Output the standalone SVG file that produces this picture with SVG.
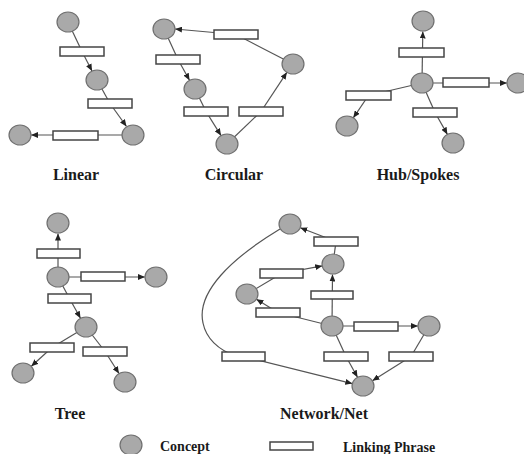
<svg xmlns="http://www.w3.org/2000/svg" width="524" height="454" viewBox="0 0 524 454">
<defs>
<marker id="arr" markerUnits="userSpaceOnUse" markerWidth="7" markerHeight="6" refX="7" refY="3" orient="auto">
<path d="M0,0 L7,3 L0,6 z" fill="#222"/>
</marker>
<style>
.c{fill:#a9a9a9;stroke:#707070;stroke-width:1.2}
.r{fill:#fff;stroke:#454545;stroke-width:1.5}
.l{fill:none;stroke:#555;stroke-width:1.2}
.a{fill:none;stroke:#555;stroke-width:1.2;marker-end:url(#arr)}
.t{font-family:"Liberation Serif","DejaVu Serif",serif;font-weight:bold;font-size:16px;fill:#1a1a1a;text-anchor:middle}
.lg{font-family:"Liberation Serif","DejaVu Serif",serif;font-weight:bold;font-size:14px;fill:#1a1a1a}
</style>
</defs>
<rect width="524" height="454" fill="#fff"/>

<g id="connectors">
<!-- Linear -->
<line class="l" x1="68" y1="22" x2="82" y2="51.5"/>
<line class="a" x1="82" y1="51.5" x2="92" y2="71"/>
<line class="l" x1="97" y1="80" x2="110" y2="103.5"/>
<line class="a" x1="110" y1="103.5" x2="126.5" y2="126.5"/>
<line class="a" x1="133" y1="135" x2="31" y2="135"/>
<!-- Circular -->
<line class="l" x1="293" y1="64" x2="236" y2="34.5"/>
<line class="a" x1="236" y1="34.5" x2="175" y2="29"/>
<line class="l" x1="164" y1="29" x2="178" y2="59.5"/>
<line class="a" x1="178" y1="59.5" x2="189.5" y2="80.3"/>
<line class="l" x1="195" y1="89" x2="206" y2="111.5"/>
<line class="a" x1="206" y1="111.5" x2="221" y2="135.6"/>
<line class="l" x1="227" y1="144" x2="261" y2="111.5"/>
<line class="a" x1="261" y1="111.5" x2="286.9" y2="72.3"/>
<!-- Hub/Spokes -->
<line class="a" x1="422" y1="83" x2="422.8" y2="31.5"/>
<line class="a" x1="422" y1="83" x2="507" y2="83"/>
<line class="l" x1="422" y1="83" x2="368.5" y2="95.5"/>
<line class="a" x1="368.5" y1="95.5" x2="353.3" y2="117.8"/>
<line class="l" x1="422" y1="83" x2="435" y2="112.5"/>
<line class="a" x1="435" y1="112.5" x2="447.4" y2="134.4"/>
<!-- Tree -->
<line class="a" x1="58" y1="277" x2="58" y2="233.5"/>
<line class="a" x1="58" y1="277" x2="145" y2="277"/>
<line class="l" x1="58" y1="277" x2="69.5" y2="298.5"/>
<line class="a" x1="69.5" y1="298.5" x2="80.5" y2="318.3"/>
<line class="l" x1="86" y1="327" x2="52" y2="347.5"/>
<line class="a" x1="52" y1="347.5" x2="31.3" y2="366.3"/>
<line class="l" x1="86" y1="327" x2="105" y2="351.5"/>
<line class="a" x1="105" y1="351.5" x2="119" y2="373.5"/>
<!-- Network/Net -->
<line class="l" x1="333" y1="264" x2="336" y2="241.5"/>
<line class="a" x1="336" y1="241.5" x2="300.3" y2="227.7"/>
<line class="l" x1="247" y1="294" x2="281.5" y2="273.5"/>
<line class="a" x1="281.5" y1="273.5" x2="322.2" y2="265.9"/>
<line class="a" x1="332" y1="326" x2="332.5" y2="274.5"/>
<line class="l" x1="332" y1="326" x2="278" y2="312.5"/>
<line class="a" x1="278" y1="312.5" x2="256.4" y2="299.2"/>
<line class="a" x1="332" y1="326" x2="418" y2="326"/>
<line class="l" x1="332" y1="326" x2="346" y2="356.5"/>
<line class="a" x1="346" y1="356.5" x2="357.5" y2="377.3"/>
<line class="l" x1="429" y1="326" x2="411" y2="356.5"/>
<line class="a" x1="411" y1="356.5" x2="372.4" y2="380.8"/>
<path class="l" d="M280,229 C232,258 196,292 203,323 C206,338 218,350 236,356"/>
<line class="a" x1="243.5" y1="356.5" x2="352.3" y2="383.6"/>
</g>

<!-- Linear nodes -->
<g id="lin-c1"><ellipse class="c" cx="68" cy="22" rx="11" ry="10"/></g>
<g id="lin-r1"><rect class="r" x="60" y="47" width="44" height="9"/></g>
<g id="lin-c2"><ellipse class="c" cx="97" cy="80" rx="11" ry="10"/></g>
<g id="lin-r2"><rect class="r" x="88" y="99" width="44" height="9"/></g>
<g id="lin-c3"><ellipse class="c" cx="133" cy="135" rx="11" ry="10"/></g>
<g id="lin-r3"><rect class="r" x="53" y="131" width="45" height="9"/></g>
<g id="lin-c4"><ellipse class="c" cx="20" cy="135" rx="11" ry="10"/></g>

<!-- Circular nodes -->
<g id="cir-a"><ellipse class="c" cx="164" cy="29" rx="11" ry="10"/></g>
<g id="cir-rtop"><rect class="r" x="214" y="30" width="44" height="9"/></g>
<g id="cir-b"><ellipse class="c" cx="293" cy="64" rx="11" ry="10"/></g>
<g id="cir-rleft"><rect class="r" x="156" y="55" width="44" height="9"/></g>
<g id="cir-c"><ellipse class="c" cx="195" cy="89" rx="11" ry="10"/></g>
<g id="cir-rll"><rect class="r" x="184" y="107" width="44" height="9"/></g>
<g id="cir-rlr"><rect class="r" x="239" y="107" width="44" height="9"/></g>
<g id="cir-d"><ellipse class="c" cx="227" cy="144" rx="11" ry="10"/></g>

<!-- Hub/Spokes nodes -->
<g id="hub-top"><ellipse class="c" cx="423" cy="21" rx="11" ry="10"/></g>
<g id="hub-rt"><rect class="r" x="399" y="48" width="45" height="9"/></g>
<g id="hub-hub"><ellipse class="c" cx="422" cy="83" rx="11" ry="10"/></g>
<g id="hub-rr"><rect class="r" x="443" y="78" width="46" height="9"/></g>
<g id="hub-right"><ellipse class="c" cx="518" cy="83" rx="11" ry="10"/></g>
<g id="hub-rl"><rect class="r" x="346" y="91" width="45" height="9"/></g>
<g id="hub-lb"><ellipse class="c" cx="347" cy="126" rx="11" ry="10"/></g>
<g id="hub-rb"><rect class="r" x="413" y="108" width="44" height="9"/></g>
<g id="hub-br"><ellipse class="c" cx="453" cy="143" rx="11" ry="10"/></g>

<!-- Tree nodes -->
<g id="tree-top"><ellipse class="c" cx="58" cy="223" rx="11" ry="10"/></g>
<g id="tree-rt"><rect class="r" x="37" y="249" width="43" height="9"/></g>
<g id="tree-mid"><ellipse class="c" cx="58" cy="277" rx="11" ry="10"/></g>
<g id="tree-rr"><rect class="r" x="81" y="272" width="44" height="9"/></g>
<g id="tree-right"><ellipse class="c" cx="156" cy="277" rx="11" ry="10"/></g>
<g id="tree-rm"><rect class="r" x="48" y="294" width="43" height="9"/></g>
<g id="tree-c3"><ellipse class="c" cx="86" cy="327" rx="11" ry="10"/></g>
<g id="tree-rl"><rect class="r" x="30" y="343" width="44" height="9"/></g>
<g id="tree-rr2"><rect class="r" x="83" y="347" width="44" height="9"/></g>
<g id="tree-bl"><ellipse class="c" cx="23" cy="373" rx="11" ry="10"/></g>
<g id="tree-br"><ellipse class="c" cx="125" cy="382" rx="11" ry="10"/></g>

<!-- Network nodes -->
<g id="net-n1"><ellipse class="c" cx="290" cy="224" rx="11" ry="10"/></g>
<g id="net-r1"><rect class="r" x="314" y="237" width="44" height="9"/></g>
<g id="net-n2"><ellipse class="c" cx="333" cy="264" rx="11" ry="10"/></g>
<g id="net-r2"><rect class="r" x="260" y="269" width="43" height="9"/></g>
<g id="net-n3"><ellipse class="c" cx="247" cy="294" rx="11" ry="10"/></g>
<g id="net-r3"><rect class="r" x="311" y="291" width="42" height="8"/></g>
<g id="net-r4"><rect class="r" x="256" y="308" width="44" height="9"/></g>
<g id="net-hub"><ellipse class="c" cx="332" cy="326" rx="11" ry="10"/></g>
<g id="net-r5"><rect class="r" x="354" y="322" width="44" height="9"/></g>
<g id="net-n5"><ellipse class="c" cx="429" cy="326" rx="11" ry="10"/></g>
<g id="net-r6"><rect class="r" x="324" y="352" width="44" height="9"/></g>
<g id="net-r7"><rect class="r" x="389" y="352" width="44" height="9"/></g>
<g id="net-r8"><rect class="r" x="222" y="352" width="43" height="9"/></g>
<g id="net-n6"><ellipse class="c" cx="363" cy="386" rx="11" ry="10"/></g>

<!-- Labels -->
<g id="labels">
<text class="t" x="76" y="180">Linear</text>
<text class="t" x="234" y="180">Circular</text>
<text class="t" x="418" y="180">Hub/Spokes</text>
<text class="t" x="70" y="419">Tree</text>
<text class="t" x="324" y="419">Network/Net</text>
</g>

<!-- Legend -->
<g id="legend">
<ellipse class="c" cx="131" cy="445" rx="11" ry="10"/>
<text class="lg" x="160" y="451">Concept</text>
<rect class="r" x="270" y="442" width="43" height="8"/>
<text class="lg" x="343" y="452">Linking Phrase</text>
</g>
</svg>
